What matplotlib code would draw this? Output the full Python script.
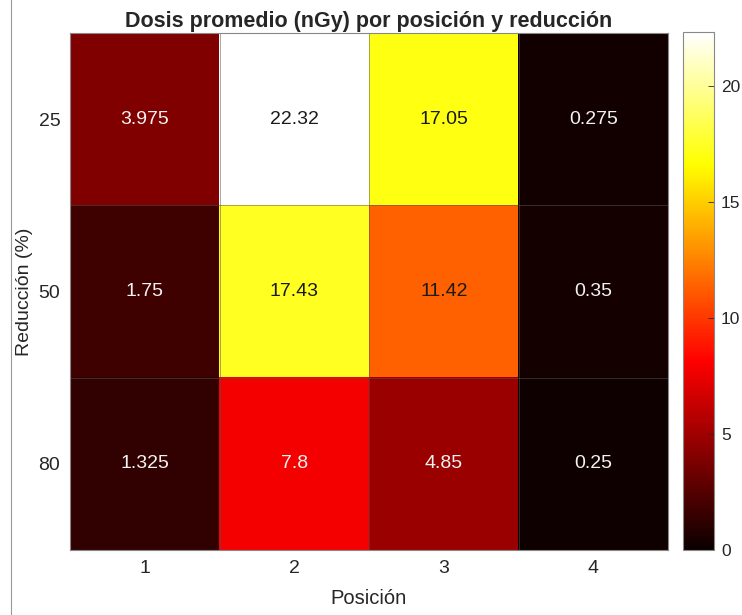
import numpy as np
import matplotlib.pyplot as plt
from matplotlib.lines import Line2D

plt.rcParams['font.family'] = ['Liberation Sans', 'DejaVu Sans']

posiciones = ["1", "2", "3", "4"]
reducciones = ["25", "50", "80"]
dosis = np.array([
    [3.975, 22.32, 17.05, 0.275],
    [1.75, 17.43, 11.42, 0.35],
    [1.325, 7.8, 4.85, 0.25],
])
etiquetas = [
    ["3.975", "22.32", "17.05", "0.275"],
    ["1.75", "17.43", "11.42", "0.35"],
    ["1.325", "7.8", "4.85", "0.25"],
]

fig = plt.figure(figsize=(7.42, 6.15), dpi=100)
ax = fig.add_axes([70 / 742, 1 - 550 / 615, 598 / 742, 517 / 615])
cax = fig.add_axes([683 / 742, 1 - 550 / 615, 31 / 742, 518 / 615])

vmax = dosis.max()
im = ax.imshow(dosis, cmap="hot", vmin=0, vmax=vmax, aspect="auto",
               interpolation="nearest")

# separadores finos entre celdas
for x in np.arange(0.5, dosis.shape[1] - 0.5):
    ax.axvline(x, color="#555555", lw=0.6, alpha=0.6)
for y in np.arange(0.5, dosis.shape[0] - 0.5):
    ax.axhline(y, color="#555555", lw=0.6, alpha=0.6)

for i in range(dosis.shape[0]):
    for j in range(dosis.shape[1]):
        color = "#1a1a1a" if dosis[i, j] / vmax > 0.45 else "#f2f2f2"
        ax.text(j, i, etiquetas[i][j], ha="center", va="center",
                fontsize=14, color=color)

ax.set_xticks(range(len(posiciones)))
ax.set_xticklabels(posiciones)
ax.set_yticks(range(len(reducciones)))
ax.set_yticklabels(reducciones)
ax.tick_params(length=0, labelsize=14, colors="#262626", pad=7)
for s in ax.spines.values():
    s.set_color("#888888")
    s.set_linewidth(0.8)

ax.set_xlabel("Posición", fontsize=14.5, color="#262626", labelpad=9)
ax.set_ylabel("Reducción (%)", fontsize=14, color="#262626", labelpad=4)
ax.set_title("Dosis promedio (nGy) por posición y reducción",
             fontsize=15.5, fontweight="bold", color="#262626", pad=4)

cb = fig.colorbar(im, cax=cax, ticks=[0, 5, 10, 15, 20])
cb.ax.tick_params(direction="in", length=4, width=0.6, labelsize=12.5,
                  colors="#262626", pad=5)
cb.outline.set_edgecolor("#888888")
cb.outline.set_linewidth(0.8)

fig.add_artist(Line2D([11 / 742, 11 / 742], [0, 1], color="#999999", lw=0.8))

fig.savefig("out.png", dpi=100)
